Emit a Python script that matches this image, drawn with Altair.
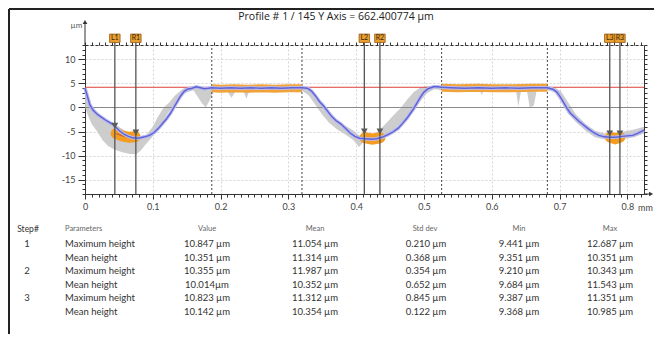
import altair as alt
import pandas as pd

# ---------------- data ----------------
title_text = "Profile # 1 / 145 Y Axis = 662.400774 µm"

prof_x = [0.000, 0.003, 0.007, 0.012, 0.018, 0.024, 0.030, 0.036, 0.042, 0.047, 0.052, 0.058, 0.064, 0.070,
          0.076, 0.082, 0.088, 0.095, 0.102, 0.108, 0.114, 0.120, 0.126, 0.131, 0.136, 0.141, 0.146, 0.151,
          0.158, 0.164, 0.170, 0.176, 0.182, 0.187, 0.200, 0.215, 0.230, 0.245, 0.260, 0.275, 0.290, 0.305,
          0.320, 0.328, 0.334, 0.340, 0.346, 0.352, 0.358, 0.364, 0.370, 0.377, 0.384, 0.391, 0.398, 0.405,
          0.413, 0.422, 0.430, 0.438, 0.446, 0.454, 0.462, 0.469, 0.475, 0.480, 0.485, 0.490, 0.495, 0.500,
          0.506, 0.514, 0.520, 0.526, 0.540, 0.560, 0.580, 0.600, 0.620, 0.640, 0.660, 0.682, 0.690, 0.696,
          0.701, 0.706, 0.711, 0.716, 0.722, 0.728, 0.735, 0.742, 0.750, 0.758, 0.766, 0.775, 0.783, 0.792,
          0.800, 0.808, 0.815, 0.8245]
prof_y = [4.0, 2.6, 0.6, -0.6, -1.4, -2.0, -2.6, -3.1, -3.6, -4.3, -5.0, -5.6, -6.0, -6.3,
          -6.4, -6.3, -6.1, -5.8, -5.2, -4.4, -3.4, -2.4, -1.2, 0.0, 1.2, 2.4, 3.3, 3.8,
          4.0, 4.3, 4.1, 3.9, 4.0, 4.1, 4.0, 4.1, 4.0, 4.1, 4.0, 4.1, 4.0, 4.1,
          4.1, 4.0, 3.4, 2.4, 1.2, 0.3, -0.8, -1.9, -2.7, -3.4, -4.3, -5.3, -6.0, -6.4,
          -6.5, -6.6, -6.5, -6.2, -5.7, -5.1, -4.3, -3.2, -2.2, -1.2, -0.2, 1.0, 2.2, 3.2,
          3.9, 4.3, 4.3, 4.2, 4.1, 4.0, 4.1, 4.0, 4.1, 4.0, 4.1, 4.1, 3.8, 3.2,
          2.2, 1.0, -0.2, -1.2, -2.0, -2.8, -3.6, -4.4, -5.2, -5.8, -6.1, -6.2, -6.2, -6.0,
          -5.9, -5.8, -5.4, -4.7]

gray_x = [0.000, 0.004, 0.010, 0.018, 0.026, 0.034, 0.044, 0.055, 0.065, 0.075, 0.082, 0.090, 0.100,
          0.108, 0.116, 0.124, 0.132, 0.140, 0.148, 0.160, 0.172, 0.178, 0.184, 0.190, 0.210, 0.216,
          0.222, 0.234, 0.238, 0.242, 0.320, 0.330, 0.340, 0.350, 0.360, 0.372, 0.384, 0.396, 0.404,
          0.412, 0.425, 0.435, 0.445, 0.455, 0.465, 0.475, 0.485, 0.495, 0.505, 0.515, 0.528, 0.545,
          0.583, 0.585, 0.588, 0.636, 0.639, 0.643, 0.652, 0.656, 0.662, 0.666, 0.682, 0.692, 0.702,
          0.712, 0.724, 0.738, 0.752, 0.766, 0.780, 0.795, 0.810, 0.8245]
gray_lo = [0.0, -1.5, -3.5, -5.0, -6.8, -8.0, -8.8, -9.3, -9.6, -9.8, -9.0, -7.6, -6.0,
           -4.4, -2.6, -0.8, 0.4, 1.8, 3.0, 3.6, 1.0, 0.0, 1.5, 3.4, 3.4, 2.0,
           3.3, 3.3, 1.8, 3.3, 3.5, 2.5, 0.5, -1.5, -3.2, -4.6, -5.6, -6.8, -8.2,
           -7.0, -6.8, -6.6, -6.0, -5.0, -3.4, -2.2, -0.4, 1.4, 3.0, 3.8, 3.6, 3.4,
           3.4, 2.6, 3.4, 3.4, 0.2, 3.3, 3.3, 0.0, 0.4, 3.4, 3.6, 3.2, 1.2,
           -1.2, -3.0, -4.8, -6.2, -6.6, -6.6, -6.5, -6.2, -5.4]
gray_hi = [4.0, 3.0, 0.5, -1.0, -2.0, -2.8, -3.5, -4.5, -5.5, -6.0, -6.2, -5.8, -4.0,
           -1.8, 0.0, 1.0, 2.4, 3.4, 4.2, 4.4, 4.2, 4.0, 4.2, 4.2, 4.4, 4.3,
           4.3, 4.3, 4.3, 4.3, 4.4, 4.2, 2.5, 0.5, -1.2, -2.6, -3.8, -4.8, -5.8,
           -6.0, -5.8, -4.6, -3.2, -1.6, -0.2, 1.6, 3.2, 4.2, 4.4, 4.4, 4.4, 4.4,
           4.4, 4.4, 4.4, 4.4, 4.3, 4.3, 4.3, 4.3, 4.3, 4.4, 4.4, 4.2, 3.4,
           1.2, -1.4, -3.4, -4.8, -5.4, -5.4, -5.0, -4.6, -4.0]

orange_x = [0.046, 0.055, 0.065, 0.074,
            0.187, 0.200, 0.220, 0.240, 0.260, 0.280, 0.300, 0.320,
            0.413, 0.424, 0.435,
            0.526, 0.550, 0.580, 0.600, 0.630, 0.660, 0.682,
            0.775, 0.782, 0.789]
orange_y = [-5.4, -5.9, -6.2, -6.1,
            4.0, 3.9, 4.0, 3.9, 4.0, 3.9, 4.0, 4.0,
            -6.3, -6.6, -6.3,
            4.1, 4.0, 4.1, 4.0, 4.0, 4.1, 4.1,
            -6.2, -6.5, -6.2]
orange_seg = ["v1"] * 4 + ["f1"] * 8 + ["v2"] * 3 + ["f2"] * 7 + ["v3"] * 3
orange_kind = ["valley"] * 4 + ["flat"] * 8 + ["valley"] * 3 + ["flat"] * 7 + ["valley"] * 3

cursor_x = [0.044, 0.075, 0.412, 0.435, 0.774, 0.789]
cursor_lbl = ["L1", "R1", "L2", "R2", "L3", "R3"]
cursor_tri_y = [-3.8, -5.2, -5.0, -5.0, -5.4, -5.4]
segment_x = [0.187, 0.320, 0.526, 0.682]
ref_level = [4.2]
zero_level = [0.0]

x_ticks = [round(i * 0.01, 2) for i in range(0, 83)]
y_ticks = list(range(-18, 14))

steps = ["1", "", "2", "", "3", ""]
params = ["Maximum height", "Mean height", "Maximum height", "Mean height", "Maximum height", "Mean height"]
vals = ["10.847 µm", "10.351 µm", "10.355 µm", "10.014µm", "10.823 µm", "10.142 µm"]
means = ["11.054 µm", "11.314 µm", "11.987 µm", "10.352 µm", "11.312 µm", "10.354 µm"]
stds = ["0.210 µm", "0.368 µm", "0.354 µm", "0.652 µm", "0.845 µm", "0.122 µm"]
mins = ["9.441 µm", "9.351 µm", "9.210 µm", "9.684 µm", "9.387 µm", "9.368 µm"]
maxs = ["12.687 µm", "10.351 µm", "10.343 µm", "11.543 µm", "11.351 µm", "10.985 µm"]
headers = ["Step#", "Parameters", "Value", "Mean", "Std dev", "Min", "Max"]

# ---------------- chart ----------------
FONT = "Lato"
W, H = 559, 149
XD = [0, 0.8245]
YD = [-18, 13]
xs = alt.Scale(domain=XD, nice=False, zero=False)
ys = alt.Scale(domain=YD, nice=False, zero=False)

prof = pd.DataFrame({"x": prof_x, "y": prof_y})
gray = pd.DataFrame({"x": gray_x, "lo": gray_lo, "hi": gray_hi})
orng = pd.DataFrame({"x": orange_x, "y": orange_y, "seg": orange_seg, "kind": orange_kind})
curs = pd.DataFrame({"x": cursor_x, "lbl": cursor_lbl, "ty": cursor_tri_y})
segs = pd.DataFrame({"x": segment_x})

major_x = "round(datum.value*100) % 10 == 0"
x_axis = alt.Axis(
    orient="bottom", values=x_ticks,
    labelExpr=f"({major_x}) ? (datum.value == 0 ? '0' : format(datum.value, '.1f')) : ''",
    tickSize={"condition": {"test": major_x, "value": 5}, "value": 3},
    grid=True, gridColor="#d4d4d4", gridDash=[2, 2],
    gridOpacity={"condition": {"test": f"({major_x}) && datum.value > 0", "value": 1}, "value": 0},
    domainColor="#333", tickColor="#333", labelColor="#444", labelFont=FONT, labelFontSize=9,
    labelPadding=3, title="mm", titleX=560, titleY=13, titleBaseline="middle", titleAlign="center",
    titleFont=FONT, titleFontSize=9, titleFontWeight="normal", titleColor="#444", labelFlush=False,
)
y_axis = alt.Axis(
    orient="left", values=y_ticks,
    labelExpr="datum.value % 5 == 0 ? datum.value : ''",
    tickSize={"condition": {"test": "datum.value % 5 == 0", "value": 7}, "value": 3},
    grid=True, gridColor="#d4d4d4", gridDash=[2, 2],
    gridOpacity={"condition": {"test": "datum.value % 5 == 0 && datum.value != 0", "value": 1}, "value": 0},
    domainColor="#333", tickColor="#333", labelColor="#444", labelFont=FONT, labelFontSize=9,
    labelPadding=3, title="µm", titleAngle=0, titleX=-9, titleY=-20, titleAlign="center",
    titleBaseline="middle", titleFont=FONT, titleFontSize=8, titleFontWeight="normal", titleColor="#555",
)
x_top = alt.Axis(orient="top", values=x_ticks, labels=False, tickSize=3, grid=False, domainColor="#333",
                 domainDash=[3, 2], tickColor="#333", title=None)
y_right = alt.Axis(orient="right", values=y_ticks, labels=False, tickSize=3, grid=False,
                   domainColor="#333", tickColor="#333", title=None)


def X(f="x", **k):
    return alt.X(f"{f}:Q", scale=xs, **k)


def Y(f="y", **k):
    return alt.Y(f"{f}:Q", scale=ys, **k)


def YDAT(v):
    return alt.YDatum(v, scale=ys, axis=None)


def XDAT(v):
    return alt.XDatum(v, scale=xs, axis=None)


gray_area = alt.Chart(gray).mark_area(color="#c8c8c8", opacity=0.9).encode(
    x=X(axis=x_top), y=Y("lo", axis=y_right), y2="hi:Q")

zero_rule = alt.Chart(pd.DataFrame({"y": zero_level})).mark_rule(color="#8a8a8a", strokeWidth=1.2).encode(
    y=Y(axis=None))
red_rule = alt.Chart(pd.DataFrame({"y": ref_level})).mark_rule(color="#e0443c", strokeWidth=1).encode(
    y=Y(axis=None))

seg_rules = alt.Chart(segs).mark_rule(color="#444", strokeWidth=1, strokeDash=[2, 2]).encode(
    x=X(axis=None), y=YDAT(YD[0]), y2=alt.datum(YD[1]))

orange_flat = alt.Chart(orng).transform_filter("datum.kind == 'flat'").mark_line(
    color="#f2a23a", strokeWidth=8, strokeCap="butt").encode(x=X(axis=None), y=Y(axis=None), detail="seg:N")
orange_valley = alt.Chart(orng).transform_filter("datum.kind == 'valley'").mark_line(
    color="#f39c20", strokeWidth=11, strokeCap="round").encode(x=X(axis=None), y=Y(axis=None), detail="seg:N")
orange_inner = alt.Chart(orng).mark_line(color="#c8641e", strokeWidth=1.2).encode(
    x=X(axis=None), y=Y(axis=None), detail="seg:N")

blue_halo = alt.Chart(prof).mark_line(color="#b9bbef", strokeWidth=3.5).encode(x=X(axis=None), y=Y(axis=None))
blue = alt.Chart(prof).mark_line(color="#5f62d4", strokeWidth=1.4).encode(x=X(axis=x_axis), y=Y(axis=y_axis))

cursor_rules = alt.Chart(curs).mark_rule(color="#555", strokeWidth=1.3).encode(
    x=X(axis=None), y=YDAT(YD[0]), y2=alt.datum(14.4))
tris = alt.Chart(curs).mark_point(shape="triangle-down", filled=True, color="#5a5a5a", size=45, opacity=1).encode(
    x=X(axis=None), y=Y("ty", axis=None))
boxes = alt.Chart(curs).mark_point(shape="M-1,-0.8H1V0.8H-1Z", filled=True, fill="#e8a030", stroke="#9a5a12",
                                   strokeWidth=0.8, size=110, opacity=1).encode(
    x=X(axis=None), y=YDAT(14.4))
box_txt = alt.Chart(curs).mark_text(font=FONT, fontSize=7, color="#3a2508", baseline="middle").encode(
    x=X(axis=None), y=YDAT(14.4), text="lbl:N")

# axis arrows
y_arrow_line = alt.Chart(pd.DataFrame({"x": [0.0]})).mark_rule(color="#333").encode(
    x=X(axis=None), y=YDAT(13), y2=alt.datum(17.5))
y_arrow = alt.Chart(pd.DataFrame({"x": [0.0]})).mark_point(shape="triangle-up", filled=True, color="#333",
                                                           size=22, opacity=1).encode(
    x=X(axis=None), y=YDAT(17.8))
x_arrow_line = alt.Chart(pd.DataFrame({"y": [-18.0]})).mark_rule(color="#333").encode(
    y=Y(axis=None), x=XDAT(0.8245), x2=alt.datum(0.833))
x_arrow = alt.Chart(pd.DataFrame({"y": [-18.0]})).mark_point(shape="triangle-right", filled=True, color="#333",
                                                              size=22, opacity=1).encode(
    y=Y(axis=None), x=XDAT(0.835))

plot = alt.layer(
    gray_area, zero_rule, red_rule, seg_rules, orange_flat, orange_valley, orange_inner,
    blue_halo, blue, cursor_rules, tris, boxes, box_txt,
    y_arrow_line, y_arrow, x_arrow_line, x_arrow,
).resolve_axis(x="independent", y="independent")

# ---- title (text) ----
title_mark = alt.Chart(pd.DataFrame({"t": [title_text]})).mark_text(
    font="Open Sans", fontSize=10.5, color="#222", align="center", baseline="middle").encode(
    x=alt.value(251), y=alt.value(-28), text="t:N")

# ---- table ----
tbl = pd.DataFrame({"row": list(range(1, 7)), "step": steps, "param": params, "val": vals,
                    "mean": means, "std": stds, "min": mins, "max": maxs})
row_scale = alt.Scale(domain=[1, 6], range=[199, 267])
# (field, header text, header x, value x, align) -- x in px from the plot's left edge
cols = [("step", headers[0], -57, -58, "center"),
        ("param", headers[1], -20, -20, "left"),
        ("val", headers[2], 122, 122, "center"),
        ("mean", headers[3], 230, 230, "center"),
        ("std", headers[4], 340, 341, "center"),
        ("min", headers[5], 434, 434, "center"),
        ("max", headers[6], 525, 525, "center")]
table_layers = []
for f, htxt, hx, vx, al in cols:
    table_layers.append(
        alt.Chart(tbl).mark_text(font=FONT, fontSize=9.5, color="#333", align=al, baseline="middle").encode(
            x=alt.value(vx), y=alt.Y("row:Q", scale=row_scale, axis=None), text=f"{f}:N"))
    table_layers.append(
        alt.Chart(pd.DataFrame({"t": [htxt]})).mark_text(
            font=FONT, fontSize=7.5 if f != "step" else 8.5, color="#666" if f != "step" else "#333",
            align=al, baseline="middle").encode(x=alt.value(hx), y=alt.value(184), text="t:N"))

# frame (decoration)
frame_top = alt.Chart(pd.DataFrame({"a": [0]})).mark_rule(color="#222", strokeWidth=2).encode(
    x=alt.value(-76), x2=alt.value(569), y=alt.value(-36))
frame_left = alt.Chart(pd.DataFrame({"a": [0]})).mark_rule(color="#222", strokeWidth=2).encode(
    x=alt.value(-76), y=alt.value(-36), y2=alt.value(289))

chart = alt.layer(plot, title_mark, *table_layers, frame_top, frame_left).resolve_scale(
    x="independent", y="independent"
).properties(
    width=W, height=H,
    padding={"left": 77, "top": 37, "right": 10, "bottom": 140},
    autosize=alt.AutoSizeParams(type="none"),
).configure_view(stroke=None).configure(background="white")

chart.save("out.html", embed_options={"renderer": "svg", "actions": False})
